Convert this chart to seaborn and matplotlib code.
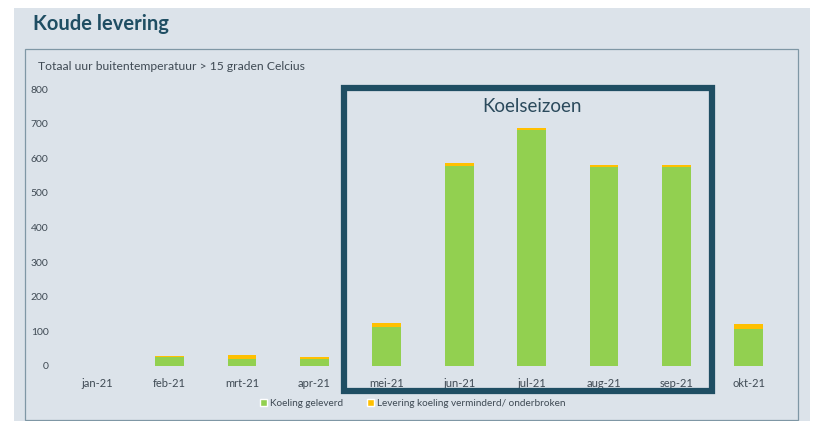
import matplotlib
matplotlib.use("Agg")
import matplotlib.pyplot as plt
import seaborn as sns
import pandas as pd
from matplotlib.patches import Rectangle, Patch

# data
maanden = ['jan-21', 'feb-21', 'mrt-21', 'apr-21', 'mei-21',
           'jun-21', 'jul-21', 'aug-21', 'sep-21', 'okt-21']
geleverd = [0, 25, 19, 20, 113, 578, 682, 575, 575, 107]
verminderd = [0, 4, 13, 4, 12, 10, 6, 6, 6, 15]

groen = '#92d050'
oranje = '#ffc000'
donker = '#1f4e63'
achtergrond = '#dce3ea'
tekst = '#3f4a54'

df = pd.DataFrame({'maand': maanden, 'geleverd': geleverd, 'verminderd': verminderd})
df['totaal'] = df['geleverd'] + df['verminderd']

sns.set_style('white')
plt.rcParams['font.family'] = ['Lato', 'DejaVu Sans']

fig = plt.figure(figsize=(8.13, 4.21), dpi=100)
fig.patch.set_facecolor('white')
W, H = 813, 421

def fx(px):
    return px / W

def fy(py):
    return 1 - py / H

# achtergrond en paneel
fig.add_artist(Rectangle((fx(14), fy(421)), fx(810) - fx(14), fy(8) - fy(421),
                         transform=fig.transFigure, facecolor=achtergrond,
                         edgecolor='none', zorder=0))
fig.add_artist(Rectangle((fx(25), fy(420)), fx(798) - fx(25), fy(49) - fy(420),
                         transform=fig.transFigure, facecolor='none',
                         edgecolor='#7f97a5', linewidth=0.9, zorder=1))

ax = fig.add_axes([fx(61), fy(365.7), fx(785) - fx(61), fy(89.3) - fy(365.7)])
ax.set_facecolor('none')

# totaal (oranje) eerst, daarna groen eroverheen
sns.barplot(data=df, x='maand', y='totaal', color=oranje, width=0.4,
            saturation=1, edgecolor='none', ax=ax)
sns.barplot(data=df, x='maand', y='geleverd', color=groen, width=0.4,
            saturation=1, edgecolor='none', ax=ax)

ax.set_ylim(0, 800)
ax.set_yticks(range(0, 801, 100))
ax.set_xlim(-0.5, len(maanden) - 0.5)
ax.set_xlabel('')
ax.set_ylabel('')
for s in ax.spines.values():
    s.set_visible(False)
ax.tick_params(axis='y', length=0, pad=9, labelsize=7.5, labelcolor=tekst)
ax.tick_params(axis='x', length=0, pad=9, labelsize=8, labelcolor=tekst)

# titels
fig.text(fx(33), fy(24), 'Koude levering', fontsize=14.5, fontweight='bold',
         color=donker, va='center', ha='left')
fig.text(fx(38), fy(67), 'Totaal uur buitentemperatuur > 15 graden Celcius',
         fontsize=8.7, color=tekst, va='center', ha='left')

# koelseizoen kader
fig.add_artist(Rectangle((fx(343.5), fy(391)), fx(712) - fx(343.5), fy(88) - fy(391),
                         transform=fig.transFigure, facecolor='none',
                         edgecolor=donker, linewidth=4.5, zorder=5))
fig.text(fx(532), fy(107), 'Koelseizoen', fontsize=13.5, color='#2b4a5c',
         ha='center', va='center')

# legenda
handles = [Patch(facecolor=groen, label='Koeling geleverd'),
           Patch(facecolor=oranje, label='Levering koeling verminderd/ onderbroken')]
leg = fig.legend(handles=handles, loc='center', bbox_to_anchor=(fx(413), fy(403)),
                 ncol=2, frameon=False, fontsize=7.2, handlelength=0.7,
                 handleheight=0.7, handletextpad=0.3, columnspacing=2.4)
for t in leg.get_texts():
    t.set_color(tekst)

fig.savefig('out.png', dpi=100)
